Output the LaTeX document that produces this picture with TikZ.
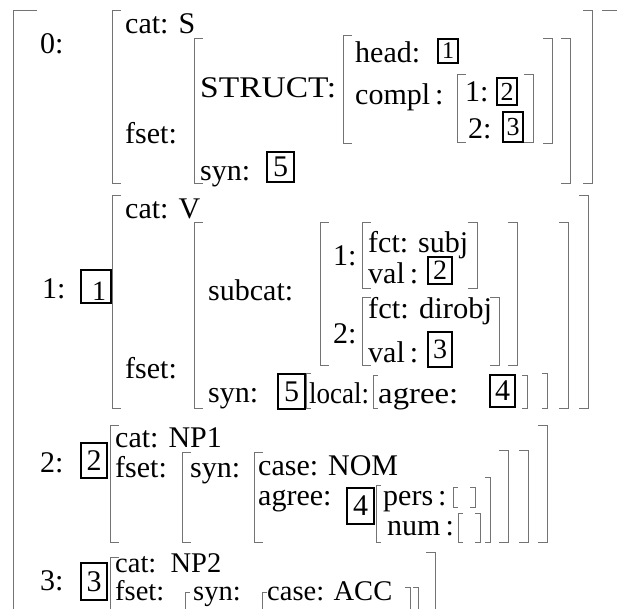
\documentclass[tikz,border=0pt]{standalone}
\usepackage{fontspec}
\usepackage{graphicx}
\setmainfont{Liberation Serif}
\tikzset{
  lbl/.style={anchor=base west, inner sep=0pt, font=\fontsize{30}{30}\selectfont},
  lbls/.style={anchor=base west, inner sep=0pt, font=\fontsize{28.5}{28.5}\selectfont},
  brk/.style={draw=black!55, line width=1pt},
  boxst/.style={draw=black, line width=1.1pt},
}
\newcommand\lbrk[3]{\draw[brk] ({#1+9},#2) -- (#1,#2) -- (#1,#3) -- ({#1+9},#3);}
\newcommand\rbrk[3]{\draw[brk] ({#1-9},#2) -- (#1,#2) -- (#1,#3) -- ({#1-9},#3);}
\newcommand\lbrs[3]{\draw[brk] ({#1+5},#2) -- (#1,#2) -- (#1,#3) -- ({#1+5},#3);}
\newcommand\rbrs[3]{\draw[brk] ({#1-5},#2) -- (#1,#2) -- (#1,#3) -- ({#1-5},#3);}
\newcommand\cbox[6]{\draw[boxst] (#1,#2) rectangle (#3,#4);
  \node[inner sep=0pt, font=\fontsize{#6}{#6}\selectfont] at ({(#1+#3)/2},{(#2+#4)/2}) {#5};}
\newcommand\fitw[2]{\resizebox{#1}{\height}{#2}}
\begin{document}
\begin{tikzpicture}[x=1pt,y=-1pt]
\useasboundingbox (0,0) rectangle (617,608);
% outer bracket
\draw[brk] (37,10) -- (13,10) -- (13,620);
\draw[brk] (602,10) -- (620,10);
% ---------- row 0 ----------
\node[lbl] (n0) at (40,53) {0:};
\lbrk{112}{10}{183} \rbrk{592}{10}{183}
\node[lbl] (c0) at (125,33) {cat: S};
\node[lbl] (f0) at (125,143) {fset:};
\lbrk{194}{38}{183} \rbrk{570}{38}{183}
\node[lbl] (s0) at (200,97) {\fitw{136pt}{STRUCT:}};
\node[lbl] (y0) at (200,180) {syn:};
\cbox{267}{152}{294}{182}{5}{30}
\lbrk{343}{35}{143} \rbrk{552}{38}{143}
\node[lbl] (h0) at (355,62) {head:};
\cbox{438}{39}{458}{63}{1}{24}
\node[lbl] (p0) at (355,104) {compl\,:};
\lbrk{457}{74}{142} \rbrk{533}{74}{142}
\node[lbl] (a0) at (465,101) {1:};
\cbox{497}{78}{517}{105}{2}{26}
\node[lbl] (b0) at (468,138) {2:};
\cbox{503}{112}{523}{142}{3}{26}
% ---------- row 1 ----------
\node[lbl] (n1) at (42,298) {1:};
\draw[boxst] (81,270) rectangle (111,303);
\node[inner sep=0pt, anchor=base, font=\fontsize{28}{28}\selectfont] (t1) at (99,300) {1};
\lbrk{112}{195}{408} \rbrk{588}{195}{408}
\node[lbl] (c1) at (125,218) {cat: V};
\node[lbl] (f1) at (125,378) {fset:};
\lbrk{194}{222}{408} \rbrk{568}{222}{408}
\node[lbl] (sc1) at (208,300) {subcat:};
\node[lbl] (y1) at (208,402) {syn:};
\cbox{278}{374}{305}{409}{5}{30}
\lbrs{306}{373}{408} \rbrs{547}{373}{408}
\node[lbl] (lo1) at (309,403) {\fitw{60pt}{local:}};
\lbrs{373}{375}{408} \rbrs{527}{375}{408}
\node[lbl] (ag1) at (378,403) {\fitw{80pt}{agree:}};
\cbox{490}{375}{515}{407}{4}{30}
\lbrk{320}{222}{365} \rbrk{517}{222}{365}
\node[lbl] (o1) at (333,265) {1:};
\node[lbl] (o2) at (333,343) {2:};
\lbrk{362}{222}{288} \rbrk{477}{222}{288}
\node[lbl] (fa1) at (368,252) {fct: subj};
\node[lbl] (va1) at (368,283) {val\,:};
\cbox{428}{257}{452}{284}{2}{28}
\lbrk{362}{297}{365} \rbrk{499}{297}{365}
\node[lbl] (fb1) at (368,318) {\fitw{124pt}{fct: dirobj}};
\node[lbl] (vb1) at (368,362) {val\,:};
\cbox{428}{332}{452}{367}{3}{28}
% ---------- row 2 ----------
\node[lbl] (n2) at (40,472) {2:};
\cbox{81}{443}{107}{478}{2}{30}
\lbrk{110}{425}{542} \rbrk{547}{425}{542}
\node[lbl] (c2) at (115,447) {cat: NP1};
\node[lbl] (f2) at (115,477) {fset:};
\lbrk{182}{452}{542} \rbrk{528}{450}{542}
\node[lbl] (y2) at (190,477) {syn:};
\lbrk{254}{452}{542} \rbrk{508}{450}{542}
\node[lbl] (ca2) at (258,475) {case: NOM};
\node[lbl] (ag2) at (258,505) {agree:};
\cbox{347}{488}{374}{524}{4}{30}
\lbrs{376}{485}{542} \rbrs{490}{477}{542}
\node[lbl] (pe2) at (383,505) {pers\,:};
\lbrs{453}{487}{507} \rbrs{475}{487}{507}
\node[lbl] (nu2) at (387,535) {num\,:};
\lbrs{458}{513}{542} \rbrs{480}{513}{542}
% ---------- row 3 ----------
\node[lbl] (n3) at (40,590) {3:};
\cbox{81}{563}{107}{600}{3}{30}
\lbrk{110}{557}{620} \rbrk{435}{552}{620}
\node[lbls] (c3) at (115,572) {cat:\, NP2};
\node[lbls] (f3) at (115,600) {fset:};
\lbrs{185}{592}{620}
\node[lbls] (y3) at (193,600) {syn:};
\lbrs{262}{592}{620}
\node[lbls] (ca3) at (267,600) {case: ACC};
\rbrs{410}{587}{620} \rbrs{418}{587}{620}
\end{tikzpicture}
\end{document}
